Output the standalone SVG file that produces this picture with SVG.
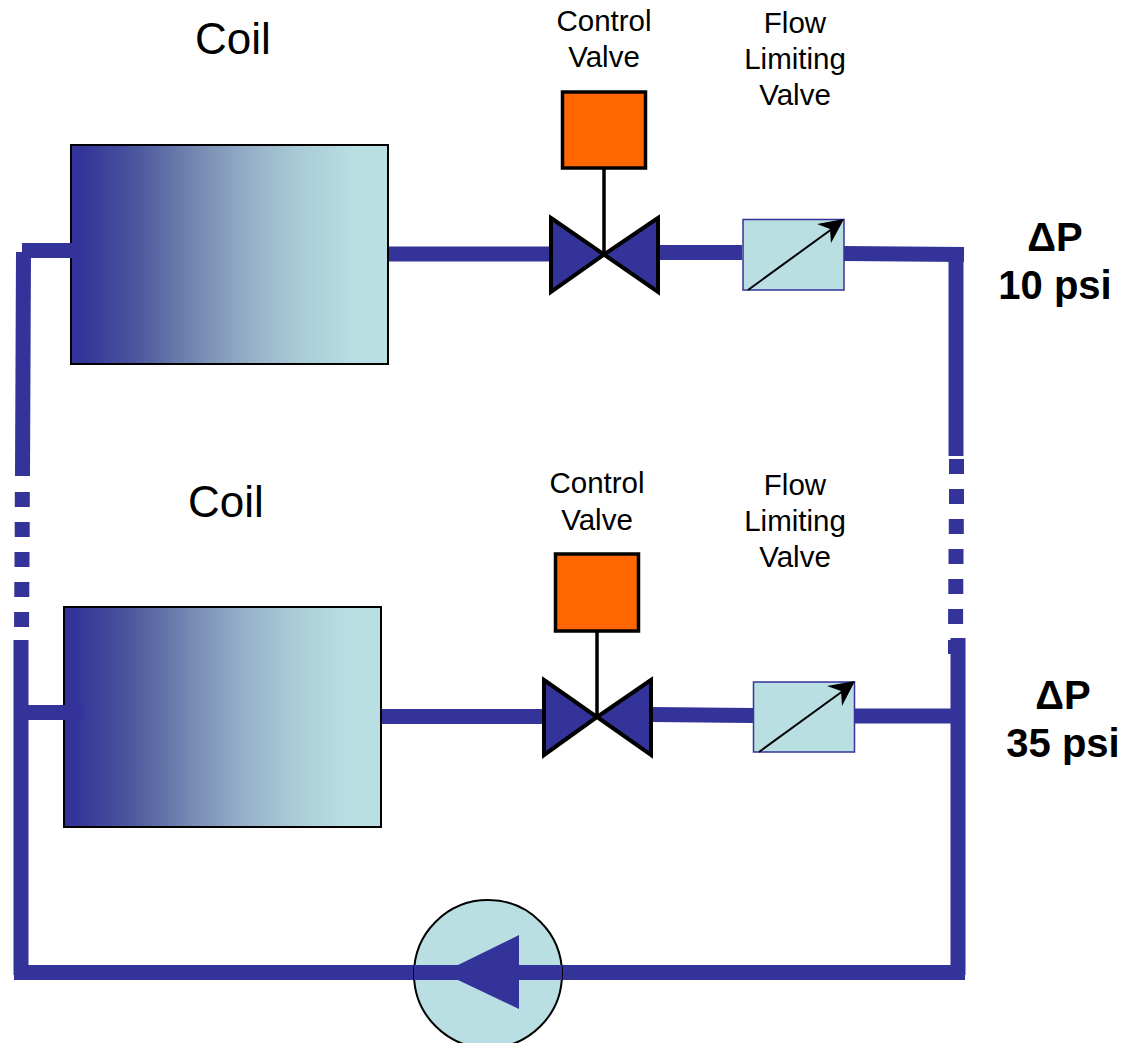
<svg xmlns="http://www.w3.org/2000/svg" width="1126" height="1043" viewBox="0 0 1126 1043">
<style>
text{font-family:"Liberation Sans",Arial,sans-serif;fill:#000;text-anchor:middle}
.coil{font-size:44px}.lbl{font-size:29.500px}.dp{font-size:40px;font-weight:bold}
.pipe{fill:none;stroke:#333399;stroke-width:15}
.pf{fill:#333399}
.cb{stroke:#000;stroke-width:2}
.vb{fill:#333399;stroke:#000;stroke-width:4;stroke-linejoin:miter}
.act{fill:#ff6600;stroke:#000;stroke-width:3.5}
.stem{stroke:#000;stroke-width:3.5}
.fl{fill:#b9dfe3;stroke:#333399;stroke-width:1.500}
.fa{stroke:#000;stroke-width:2}
</style>
<defs>
<linearGradient id="g" x1="0" x2="1" y1="0" y2="0"><stop offset="0.03" stop-color="#333399"/><stop offset="0.2" stop-color="#4a559d"/><stop offset="0.42" stop-color="#7a8fb5"/><stop offset="0.55" stop-color="#93adc6"/><stop offset="0.72" stop-color="#aacbd6"/><stop offset="0.9" stop-color="#b9dfe3"/></linearGradient>
</defs>
<g id="connectors" class="pipe">
<path d="M389 254H550M660 252.500H742M844 253.500L964 254.500"/>
<path d="M381 716.500H544M652 714.500L753 715.500M854 716H951"/>
<path d="M23.500 252L22.500 476"/>
<path d="M22.300 492V507M22.200 522V537M22 552V567M21.800 582V597M21.600 612V627"/>
<path d="M21 640V975"/>
<path d="M956 247V456M956.500 459V474M956.500 489V504M956.300 519V534M956 549V564M955.800 579V594M955.600 609V624"/>
<path d="M955.500 640V654M958 638V975"/>
<path d="M14 972.500H965"/>
</g>
<g id="coil-top"><rect x="71" y="145" width="317" height="219" fill="url(#g)" class="cb"/><path d="M22 243H78V258H22Z" class="pf"/></g>
<g id="coil-bottom"><rect x="64" y="607" width="317" height="220" fill="url(#g)" class="cb"/><path d="M28 705H83V720H28Z" class="pf"/></g>
<g id="valve-top">
<line x1="604" y1="168" x2="604" y2="254" class="stem"/>
<rect x="562.500" y="92" width="83" height="76" class="act"/>
<path d="M551 218L604 254.500L551 292ZM658 218L604 254.500L658 292Z" class="vb"/>
</g>
<g id="valve-bottom">
<line x1="597" y1="631" x2="597" y2="717" class="stem"/>
<rect x="555.500" y="554" width="83" height="77" class="act"/>
<path d="M544 680L597 717L544 755ZM651 680L597 717L651 755Z" class="vb"/>
</g>
<g id="flow-top">
<rect x="743" y="219.500" width="101" height="70.500" class="fl"/>
<line x1="748" y1="290" x2="836" y2="226" class="fa"/>
<path d="M844 219L817 224L830 229L831 243Z"/>
</g>
<g id="flow-bottom">
<rect x="753.500" y="682" width="101" height="70" class="fl"/>
<line x1="759" y1="752" x2="847" y2="688" class="fa"/>
<path d="M855 681L827 686L841 691L842 706Z"/>
</g>
<g id="pump">
<circle cx="488" cy="974" r="74" fill="#b9dfe3" stroke="#000" stroke-width="2"/>
<path d="M414 965H458L519 935V965H562V980H519V1009L458 980H414Z" class="pf"/>
</g>
<g id="labels">
<text x="233" y="54" class="coil">Coil</text>
<text x="226" y="517" class="coil">Coil</text>
<text x="604" y="31" class="lbl">Control</text><text x="604" y="67" class="lbl">Valve</text>
<text x="795" y="33" class="lbl">Flow</text><text x="795" y="69" class="lbl">Limiting</text><text x="795" y="105" class="lbl">Valve</text>
<text x="597" y="493" class="lbl">Control</text><text x="597" y="530" class="lbl">Valve</text>
<text x="795" y="495" class="lbl">Flow</text><text x="795" y="531" class="lbl">Limiting</text><text x="795" y="567" class="lbl">Valve</text>
<text x="1055" y="251" class="dp">ΔP</text><text x="1055" y="299" class="dp">10 psi</text>
<text x="1063" y="709" class="dp">ΔP</text><text x="1063" y="757" class="dp">35 psi</text>
</g>
</svg>
